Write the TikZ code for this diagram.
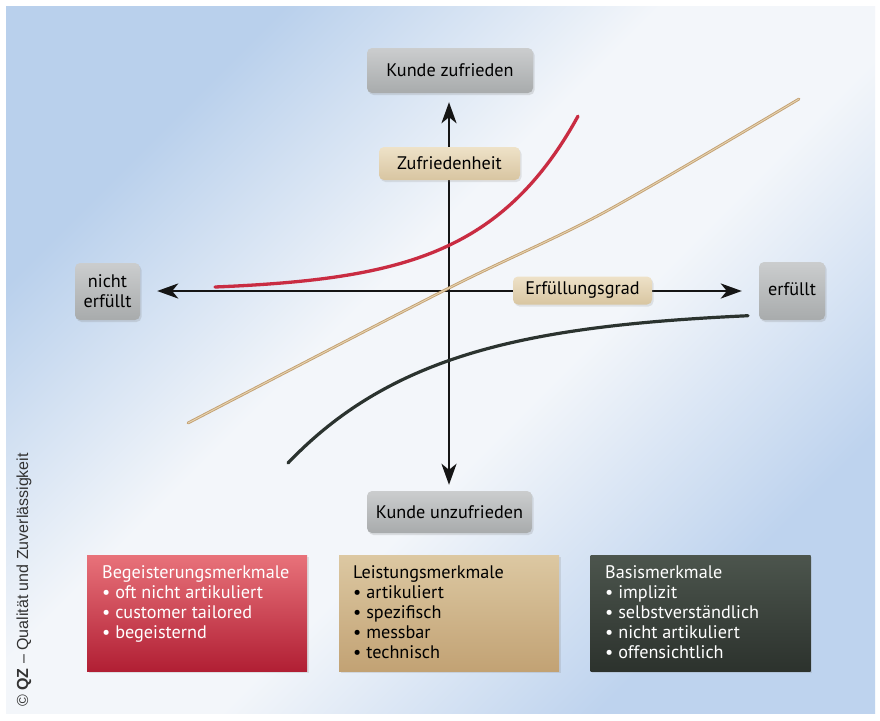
\documentclass[tikz,border=0pt]{standalone}
\usepackage{fontspec}
\setmainfont{PT Sans}
\newfontfamily\crfont{Liberation Sans}
\usetikzlibrary{arrows.meta,shadows}
\definecolor{bgblue}{HTML}{B9D0EC}
\definecolor{bgblueb}{HTML}{BED3EE}
\definecolor{bgwhite}{HTML}{F3F6FA}
\definecolor{greyT}{HTML}{CBCDCE}
\definecolor{greyB}{HTML}{A8ABAC}
\definecolor{tanT}{HTML}{EEE2C8}
\definecolor{tanB}{HTML}{D8C5A1}
\definecolor{redT}{HTML}{E8727A}
\definecolor{redM}{HTML}{D8283F}
\definecolor{redB}{HTML}{B11F34}
\definecolor{btanT}{HTML}{DCC8A2}
\definecolor{btanM}{HTML}{CFB488}
\definecolor{btanB}{HTML}{C2A274}
\definecolor{darkT}{HTML}{4C554D}
\definecolor{darkM}{HTML}{3A413A}
\definecolor{darkB}{HTML}{2C322D}
\definecolor{curvered}{HTML}{C92C42}
\definecolor{curvetan}{HTML}{C4A173}
\definecolor{curvetanL}{HTML}{E6D4B2}
\definecolor{curvedark}{HTML}{2B332F}
\definecolor{axisblack}{HTML}{151515}
\pgfdeclareverticalshading{bgsh}{100bp}{color(0bp)=(bgblueb); color(27bp)=(bgblueb); color(44bp)=(bgwhite); color(56bp)=(bgwhite); color(73bp)=(bgblue); color(100bp)=(bgblue)}
\begin{document}
\begin{tikzpicture}[x=1pt,y=1pt,
  lbl/.style={font=\fontsize{18.2}{20}\selectfont, inner sep=0pt, text=black},
  greybox/.style={lbl, rounded corners=5pt, top color=greyT, bottom color=greyB,
    drop shadow={opacity=0.22, shadow xshift=1.5pt, shadow yshift=-2pt}},
  tanlabel/.style={lbl, rounded corners=5pt, top color=tanT, bottom color=tanB,
    drop shadow={opacity=0.18, shadow xshift=1.5pt, shadow yshift=-2pt}},
  featbox/.style={minimum width=220pt, minimum height=116pt, inner sep=0pt,
    drop shadow={opacity=0.2, shadow xshift=1.5pt, shadow yshift=-2pt}},
  feattext/.style={font=\fontsize{18.2}{20}\selectfont, anchor=north west, inner sep=0pt, align=left},
  axisline/.style={draw=axisblack, line width=2.8pt,
    {Stealth[length=21pt,width=15pt,inset=6pt]}-{Stealth[length=21pt,width=15pt,inset=6pt]}},
  redcurve/.style={draw=curvered, line width=3.3pt, line cap=round},
  tancurve/.style={draw=curvetan, line width=2.8pt, line cap=round},
  tancurvehl/.style={draw=curvetanL, line width=0.9pt, line cap=round},
  darkcurve/.style={draw=curvedark, line width=3.2pt, line cap=round}
]
\useasboundingbox (0,0) rectangle (880,-720);
\fill[white] (0,0) rectangle (880,-720);
\shade[shading=bgsh, shading angle=45] (6,-6) rectangle (875,-713);

% grey end boxes
\node[greybox, minimum width=166pt, minimum height=45pt] (kz) at (450,-70.5) {Kunde zufrieden};
\node[greybox, minimum width=65pt, minimum height=57pt, align=center] (ne) at (107.5,-291.5) {nicht\\erfüllt};
\node[greybox, minimum width=66pt, minimum height=58pt] (ef) at (792,-291) {\raisebox{3pt}{erfüllt}};
\node[greybox, minimum width=165pt, minimum height=42pt] (ku) at (449.5,-512) {Kunde unzufrieden};
\coordinate (o) at (449,-291);

% axes
\draw[axisline, shorten <=6pt, shorten >=9pt] (ku.north -| o) -- (kz.south -| o);
\draw[axisline, shorten <=17pt, shorten >=17pt] (ne.east |- o) -- (ef.west |- o);

% curves
\draw[redcurve] plot[domain=215:578, samples=60, smooth] (\x, {-291 + 4*exp(0.0104*(\x-215))});
\draw[tancurve] plot[smooth, tension=0.5] coordinates {(188,-423) (449,-288) (603,-213) (799,-99)};
\draw[tancurvehl] plot[smooth, tension=0.5] coordinates {(188,-423) (449,-288) (603,-213) (799,-99)};
\draw[darkcurve] plot[domain=288:748, samples=60, smooth] (\x, {-309 - 154*exp(-0.0068*(\x-288))});

% axis labels
\node[tanlabel, minimum width=141pt, minimum height=33pt] (zuf) at (449.5,-163.5) {Zufriedenheit};
\node[tanlabel, minimum width=139pt, minimum height=28pt] (eg) at (582.5,-290.5) {Erfüllungsgrad};

% feature boxes
\node[featbox, top color=redT, middle color=redM, bottom color=redB] (b1) at (197,-613) {};
\node[featbox, top color=btanT, middle color=btanM, bottom color=btanB] (b2) at (449,-613) {};
\node[featbox, top color=darkT, middle color=darkM, bottom color=darkB] (b3) at (700.5,-613) {};
\node[feattext, text=white] (t1) at (102,-564) {\strut Begeisterungsmerkmale\\• oft nicht artikuliert\\• customer tailored\\• begeisternd};
\node[feattext, text=black] (t2) at (353,-564) {\strut Leistungsmerkmale\\• artikuliert\\• spezifisch\\• messbar\\• technisch};
\node[feattext, text=white] (t3) at (605,-564) {\strut Basismerkmale\\• implizit\\• selbstverständlich\\• nicht artikuliert\\• offensichtlich};

% copyright
\node[rotate=90, anchor=base west, inner sep=0pt, font=\crfont\fontsize{16}{16}\selectfont, text=black!80] (cr) at (28,-707) {© \textbf{QZ} – Qualität und Zuverlässigkeit};
\end{tikzpicture}
\end{document}
